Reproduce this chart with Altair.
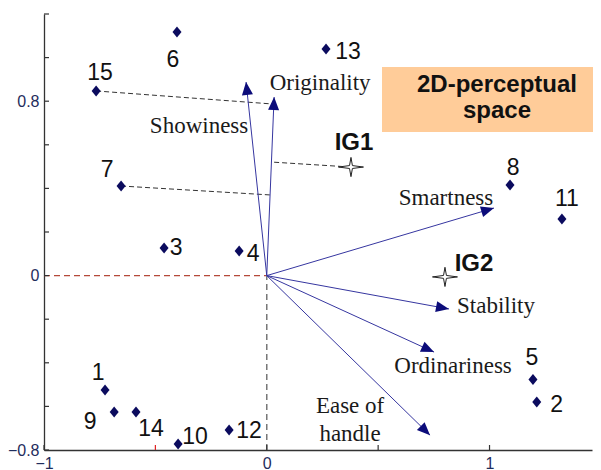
import math
import altair as alt
import pandas as pd

# ---------------- data ----------------
prod_names = [str(i) for i in range(1, 16)]
prod_x = [-0.726, 1.212, -0.461, -0.124, 1.195, -0.403, -0.654, 1.092, -0.685, -0.398, 1.325, -0.169, 0.266, -0.587, -0.766]
prod_y = [-0.525, -0.580, 0.127, 0.113, -0.477, 1.117, 0.411, 0.416, -0.626, -0.772, 0.260, -0.708, 1.039, -0.626, 0.847]

ideal_names = ["IG1", "IG2"]
ideal_x = [0.378, 0.800]
ideal_y = [0.498, -0.006]

attr_names = ["Showiness", "Originality", "Smartness", "Stability", "Ordinariness", "Ease of\nhandle"]
attr_x = [-0.093, 0.033, 1.020, 0.818, 0.751, 0.733]
attr_y = [0.888, 0.819, 0.310, -0.153, -0.351, -0.732]

proj_from_x = [-0.766, -0.654, 0.378]
proj_from_y = [0.847, 0.411, 0.498]
proj_to_x = [0.028, 0.015, 0.019]
proj_to_y = [0.787, 0.370, 0.521]

x_tick_vals = [-1, -0.5, 0, 0.5, 1]
y_tick_vals = [-0.8, -0.6, -0.4, -0.2, 0, 0.2, 0.4, 0.6, 0.8, 1.0, 1.2]
x_label_vals = [-1, 0, 1]
y_label_vals = [-0.8, 0, 0.8]

title_lines = ["2D-perceptual", "space"]

# ---------------- styling (label offsets in px) ----------------
prod_dx = [-7, 20, 12, 14, -1, -4, -14, 3, -24, 17, 5, 20, 22, 15, 4]
prod_dy = [-17, 3, 0, 3, -22, 28, -16, -17, 10, -7, -20, 1, 3, 17, -18]
ideal_dx = [3, 29]
ideal_dy = [-24, -13]
attr_dx = [-47, 46, -48, 47, 19, -80]
attr_dy = [44, -14, -10, -3, 14, -29]

XDOM = [-1, 1.46]
YDOM = [-0.8, 1.2]
W, H = 548, 436
PXX = W / (XDOM[1] - XDOM[0])
PXY = H / (YDOM[1] - YDOM[0])

NAVY = "#0b0b5e"
LINE = "#3636a0"

prod = pd.DataFrame({"name": prod_names, "x": prod_x, "y": prod_y})
prod["lx"] = prod["x"] + pd.Series(prod_dx) / PXX
prod["ly"] = prod["y"] - pd.Series(prod_dy) / PXY

ideal = pd.DataFrame({"name": ideal_names, "x": ideal_x, "y": ideal_y})
ideal["lx"] = ideal["x"] + pd.Series(ideal_dx) / PXX
ideal["ly"] = ideal["y"] - pd.Series(ideal_dy) / PXY

attr = pd.DataFrame({"name": attr_names, "x": attr_x, "y": attr_y})
attr["ox"] = 0.0
attr["oy"] = 0.0
attr["lx"] = attr["x"] + pd.Series(attr_dx) / PXX
attr["ly"] = attr["y"] - pd.Series(attr_dy) / PXY
attr["angle"] = [
    (math.degrees(math.atan2(ax * PXX, ay * PXY)) + 360) % 360 for ax, ay in zip(attr_x, attr_y)
]

proj = pd.DataFrame({"x": proj_from_x, "y": proj_from_y, "x2": proj_to_x, "y2": proj_to_y})

xt = pd.DataFrame({"v": x_tick_vals, "c": ["#333333", "#e02020", "#333333", "#333333", "#333333"]})
yt = pd.DataFrame({"v": y_tick_vals})
one = pd.DataFrame({"k": [0]})
titles = pd.DataFrame({"t": title_lines, "py": [78, 104]})

xs = alt.Scale(domain=XDOM, nice=False, zero=False)
ys = alt.Scale(domain=YDOM, nice=False, zero=False)

axis_common = dict(
    ticks=False, grid=False, domainColor="#333333", domainWidth=1.3,
    labelColor="#1f2d5c", labelFont="Liberation Sans", labelFontSize=16,
    labelFlush=False, labelOverlap=False, title=None, format="~g",
)
xaxis = alt.Axis(values=x_label_vals, labelPadding=5, **axis_common)
yaxis = alt.Axis(values=y_label_vals, labelPadding=5, **axis_common)


def X(f):
    return alt.X(f, type="quantitative", scale=xs, axis=xaxis)


def Y(f):
    return alt.Y(f, type="quantitative", scale=ys, axis=yaxis)


# title box
box = alt.Chart(one).mark_rect(color="#FFCC99").encode(
    x=alt.value(338), x2=alt.value(560), y=alt.value(53), y2=alt.value(118)
)
title_text = alt.Chart(titles).mark_text(
    font="Liberation Sans", fontWeight="bold", fontSize=24,
    color="#111111", baseline="alphabetic", align="center"
).encode(x=alt.value(453), y=alt.Y("py:Q", scale=None), text="t:N")

# origin reference lines
red_line = alt.Chart(one).mark_rule(color="#b5493a", strokeDash=[6, 4], strokeWidth=1.2).encode(
    x=alt.datum(-1, type="quantitative", scale=xs, axis=xaxis), x2=alt.datum(0),
    y=alt.datum(0, type="quantitative", scale=ys, axis=yaxis)
)
grey_line = alt.Chart(one).mark_rule(color="#777777", strokeDash=[6, 4], strokeWidth=1.5).encode(
    x=alt.datum(0, type="quantitative", scale=xs, axis=xaxis),
    y=alt.datum(-0.8, type="quantitative", scale=ys, axis=yaxis), y2=alt.datum(0)
)

proj_lines = alt.Chart(proj).mark_rule(color="#333333", strokeDash=[5, 3], strokeWidth=1).encode(
    x=X("x"), y=Y("y"), x2="x2", y2="y2"
)

arrow_lines = alt.Chart(attr).mark_rule(color=LINE, strokeWidth=1).encode(
    x=X("ox"), y=Y("oy"), x2="x", y2="y"
)
arrow_heads = alt.Chart(attr).mark_point(
    shape="M0,0L-0.85,2L0.85,2Z", filled=True, color="#0c0c7a", opacity=1, size=169, strokeWidth=0
).encode(x=X("x"), y=Y("y"), angle=alt.Angle("angle:Q", scale=None))

attr_text = alt.Chart(attr).mark_text(
    font="Liberation Serif", fontSize=23, color="#1a1a1a", lineBreak="\n", lineHeight=28,
    align="center", baseline="middle"
).encode(x=X("lx"), y=Y("ly"), text="name:N")

diamonds = alt.Chart(prod).mark_point(
    shape="M0,-1.1L0.9,0L0,1.1L-0.9,0Z", filled=True, color=NAVY, opacity=1, size=100
).encode(x=X("x"), y=Y("y"))

prod_text = alt.Chart(prod).mark_text(
    font="Liberation Sans", fontSize=23, color="#111111", align="center", baseline="middle"
).encode(x=X("lx"), y=Y("ly"), text="name:N")

stars = alt.Chart(ideal).mark_point(
    shape="M0,-1L0.15,-0.15L1.3,0L0.15,0.15L0,1L-0.15,0.15L-1.3,0L-0.15,-0.15Z",
    filled=True, fill="white", stroke="#222222", strokeWidth=1, opacity=1, size=370
).encode(x=X("x"), y=Y("y"))

ideal_text = alt.Chart(ideal).mark_text(
    font="Liberation Sans", fontSize=24, fontWeight="bold", color="#111111",
    align="center", baseline="middle"
).encode(x=X("lx"), y=Y("ly"), text="name:N")

xticks = alt.Chart(xt).mark_rule(strokeWidth=1.2).encode(
    x=X("v"), y=alt.value(H), y2=alt.value(H - 5), color=alt.Color("c:N", scale=None)
)
yticks = alt.Chart(yt).mark_rule(color="#333333", strokeWidth=1.2).encode(
    y=Y("v"), x=alt.value(0), x2=alt.value(5)
)

chart = alt.layer(
    box, title_text, red_line, grey_line, proj_lines, arrow_lines, arrow_heads,
    attr_text, diamonds, prod_text, stars, ideal_text, xticks, yticks
).properties(
    width=W, height=H,
    padding={"left": 36, "top": 6, "right": 1, "bottom": 20},
    autosize=alt.AutoSizeParams(type="none"),
    background="white",
).configure_view(stroke=None)

chart.save("out.html", embed_options={"renderer": "svg", "actions": False})
